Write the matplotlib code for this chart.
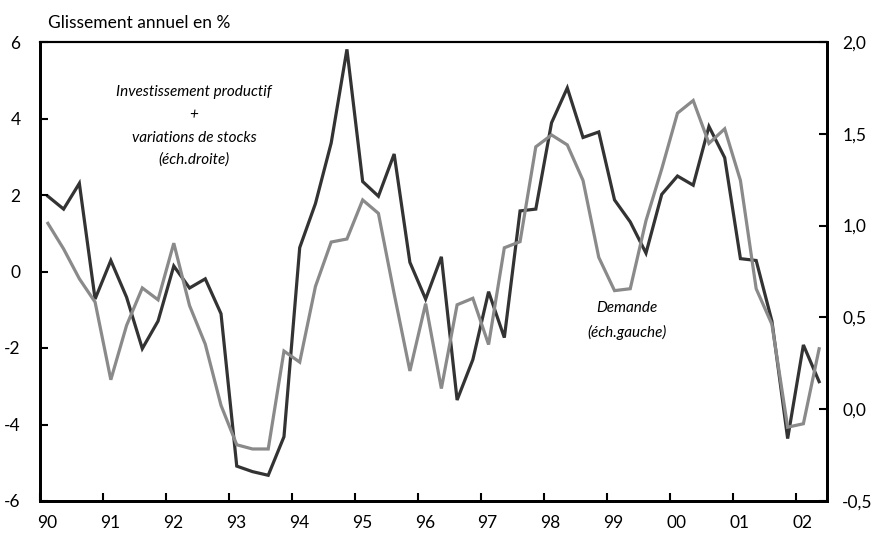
import numpy as np
import matplotlib
matplotlib.use("Agg")
from matplotlib import pyplot as plt
from matplotlib import transforms

plt.rcParams['font.family'] = ['Lato', 'DejaVu Sans']

# quarterly points 1990Q1 .. 2002Q2
quarters = 1990 + (np.arange(50) + 0.5) / 4.0

# Demande, glissement annuel (echelle gauche)
demande = [1.26, 0.59, -0.19, -0.80, -2.83, -1.41, -0.43, -0.74, 0.74, -0.89,
           -1.90, -3.50, -4.53, -4.64, -4.64, -2.08, -2.37, -0.39, 0.77, 0.85,
           1.87, 1.52, -0.58, -2.60, -0.84, -3.06, -0.87, -0.70, -1.91, 0.62,
           0.78, 3.26, 3.57, 3.31, 2.38, 0.37, -0.50, -0.45, 1.33, 2.68,
           4.14, 4.47, 3.35, 3.73, 2.38, -0.45, -1.38, -4.07, -3.98, -2.02]

# Investissement productif + variations de stocks (echelle droite)
invest = [1.16, 1.09, 1.23, 0.60, 0.81, 0.61, 0.33, 0.48, 0.78, 0.66,
          0.71, 0.52, -0.31, -0.34, -0.36, -0.15, 0.88, 1.12, 1.45, 1.96,
          1.24, 1.16, 1.39, 0.80, 0.60, 0.83, 0.05, 0.27, 0.64, 0.39,
          1.08, 1.09, 1.56, 1.75, 1.48, 1.51, 1.14, 1.02, 0.85, 1.17,
          1.27, 1.22, 1.54, 1.37, 0.82, 0.81, 0.48, -0.16, 0.35, 0.15]

years = np.arange(1990, 2003)
year_labels = ['90', '91', '92', '93', '94', '95', '96', '97', '98', '99', '00', '01', '02']
left_ticks = [-6, -4, -2, 0, 2, 4, 6]
right_ticks = [-0.5, 0.0, 0.5, 1.0, 1.5, 2.0]
right_labels = ['-0,5', '0,0', '0,5', '1,0', '1,5', '2,0']

fig = plt.figure(figsize=(8.75, 5.36), dpi=100)
ax = fig.add_axes([40/875, 35/536, 787/875, 459/536])
ax2 = ax.twinx()

ax2.plot(quarters, invest, color='#333333', lw=2.3, solid_joinstyle='miter')
ax.plot(quarters, demande, color='#8a8a8a', lw=2.3, solid_joinstyle='miter')

# gray on top
ax.set_zorder(ax2.get_zorder() + 1)
ax.patch.set_visible(False)

ax.set_xlim(1990, 2002.5)
ax.set_ylim(-6, 6)
ax2.set_ylim(-0.5, 2.0)

ax.set_yticks(left_ticks)
ax.set_yticklabels([str(t) for t in left_ticks])
ax2.set_yticks(right_ticks)
ax2.set_yticklabels(right_labels)
ax.set_xticks(years)
ax.set_xticklabels(year_labels)

ax.tick_params(axis='y', direction='in', length=6, width=1.5, labelsize=12.5, pad=14)
ax2.tick_params(axis='y', direction='in', length=6, width=1.5, labelsize=12.5, pad=11)
ax.tick_params(axis='x', direction='in', length=6, width=1.5, labelsize=12.5, pad=10)

# year labels a bit right of the tick
off = transforms.ScaledTranslation(7/100, 0, fig.dpi_scale_trans)
for lab in ax.get_xticklabels():
    lab.set_transform(lab.get_transform() + off)

for a in (ax, ax2):
    for s in a.spines.values():
        s.set_linewidth(2)
        s.set_color('black')
ax.spines['top'].set_linewidth(1.5)
ax2.spines['top'].set_linewidth(1.5)

fig.text(48/875, 1 - 23/536, 'Glissement annuel en %', fontsize=12.5, va='center', ha='left')

txt_kw = dict(fontsize=11, style='italic', ha='center', va='center')
for s, yy in [('Investissement productif', 92), ('+', 115),
              ('variations de stocks', 138), ('(éch.droite)', 160),
              ('Demande', 308), ('(éch.gauche)', 332)]:
    xx = 194 if yy < 200 else 627
    fig.text(xx/875, 1 - yy/536, s, **txt_kw)

fig.savefig('out.png', dpi=100)
